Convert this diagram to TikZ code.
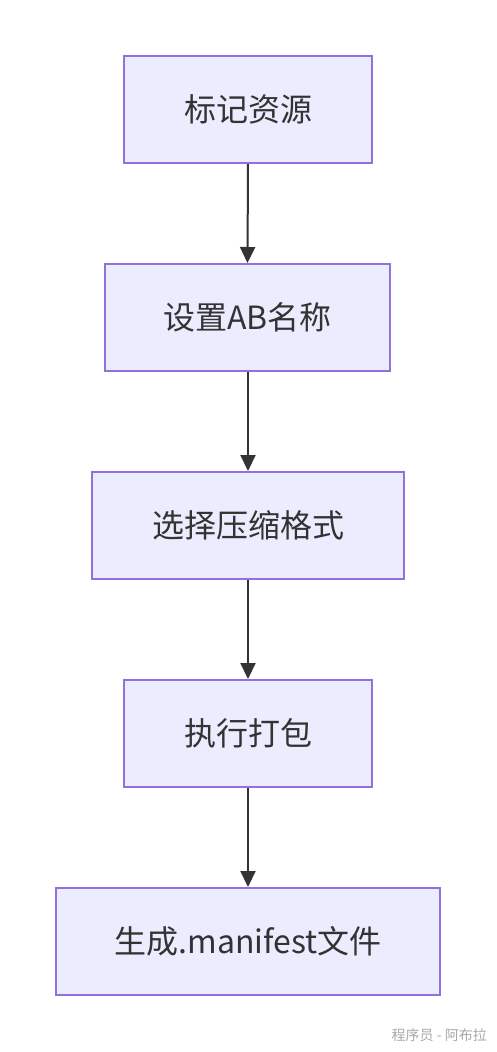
\documentclass[tikz,border=0pt]{standalone}
\usepackage{fontspec}
\setmainfont{Noto Sans CJK SC}
\usetikzlibrary{arrows.meta}
\definecolor{boxfill}{HTML}{ECECFF}
\definecolor{boxline}{HTML}{9370DB}
\definecolor{txt}{HTML}{333333}
\definecolor{wm}{HTML}{A8A8A8}
\begin{document}
\begin{tikzpicture}[x=1pt,y=-1pt,
  stepbox/.style={draw=boxline,fill=boxfill,line width=2pt,text=txt,font=\fontsize{32}{38}\selectfont,inner sep=0pt},
  flow/.style={draw=txt,line width=2pt,-{Triangle[length=16pt,width=15pt]}}]
\useasboundingbox (0,0) rectangle (496,1052);
\node[stepbox,minimum width=248pt,minimum height=107pt] (a) at (248,109.5) {标记资源};
\node[stepbox,minimum width=285pt,minimum height=107pt] (b) at (247.5,317.5) {设置AB名称};
\node[stepbox,minimum width=312pt,minimum height=107pt] (c) at (248,525.5) {选择压缩格式};
\node[stepbox,minimum width=248pt,minimum height=107pt] (d) at (248,733.5) {执行打包};
\node[stepbox,minimum width=384pt,minimum height=107pt] (e) at (248,941.5) {生成.manifest文件};
\draw[flow] (a.south) -- (b.north);
\draw[flow] (b.south -| a.south) -- (c.north);
\draw[flow] (c.south) -- (d.north);
\draw[flow] (d.south) -- (e.north);
\node[text=wm,font=\fontsize{14}{17}\selectfont,anchor=east,inner sep=0pt] (w) at (487,1035) {程序员 - 阿布拉};
\end{tikzpicture}
\end{document}
